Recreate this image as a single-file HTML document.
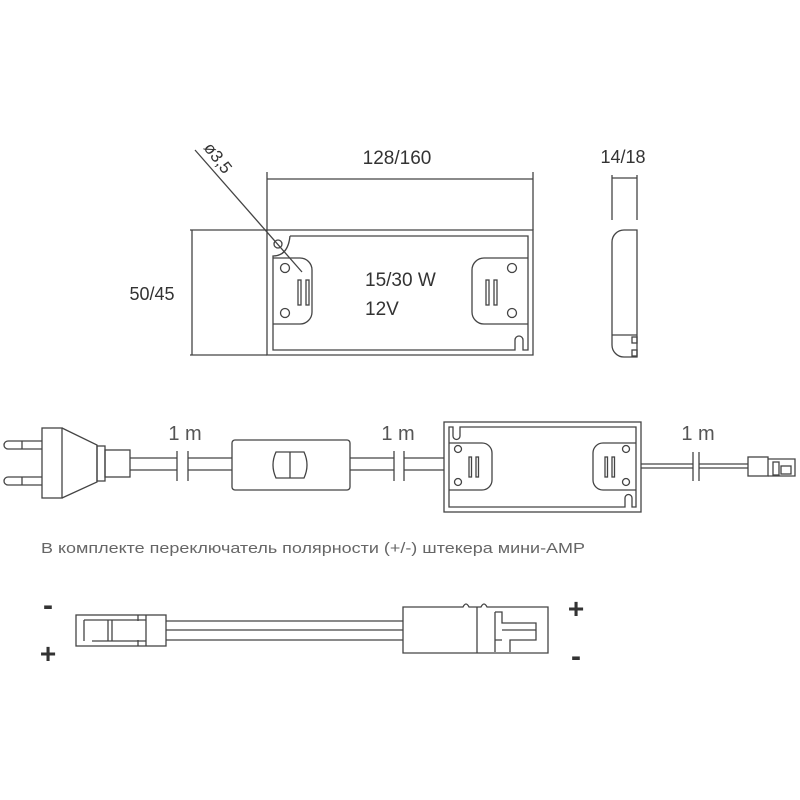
<!DOCTYPE html>
<html><head><meta charset="utf-8"><style>
html,body{margin:0;padding:0;background:#fff}
svg{display:block}
text{font-family:"Liberation Sans",sans-serif}
</style></head><body>
<svg width="800" height="800" viewBox="0 0 800 800" xmlns="http://www.w3.org/2000/svg">
<g fill="none" stroke="#444" stroke-width="1.3">
<line x1="267" y1="179" x2="533" y2="179"/>
<line x1="267" y1="172" x2="267" y2="230"/>
<line x1="533" y1="172" x2="533" y2="230"/>
<line x1="190" y1="230" x2="267" y2="230"/>
<line x1="190" y1="355" x2="267" y2="355"/>
<line x1="192" y1="230" x2="192" y2="355"/>
<line x1="195" y1="150" x2="302" y2="272"/>
<path d="M267 230 H533 V355 H267 Z"/>
<path d="M290 236 H528 V350 H523 V340 a4 4 0 0 0 -8 0 V350 H273 V256 Q288 256 290 236"/>
<circle cx="278" cy="244" r="4"/>
<path d="M273 258 H300 a12 12 0 0 1 12 12 V312 a12 12 0 0 1 -12 12 H273"/>
<path d="M528 258 H484 a12 12 0 0 0 -12 12 V312 a12 12 0 0 0 12 12 H528"/>
<circle cx="285" cy="268" r="4.5"/><circle cx="285" cy="313" r="4.5"/>
<circle cx="512" cy="268" r="4.5"/><circle cx="512" cy="313" r="4.5"/>
<rect x="298" y="280" width="3" height="25"/><rect x="306" y="280" width="3" height="25"/>
<rect x="486" y="280" width="3" height="25"/><rect x="494" y="280" width="3" height="25"/>
<line x1="612" y1="178" x2="637" y2="178"/>
<line x1="612" y1="175" x2="612" y2="220"/>
<line x1="637" y1="175" x2="637" y2="220"/>
<path d="M637 230 H624 a12 12 0 0 0 -12 12 V345 a12 12 0 0 0 12 12 H637 Z"/>
<line x1="612" y1="335" x2="637" y2="335"/>
<rect x="632" y="337" width="5" height="6"/><rect x="632" y="350" width="5" height="6"/>
<path d="M42 441 H8 a4 4 0 0 0 0 8 H42"/><path d="M42 477 H8 a4 4 0 0 0 0 8 H42"/>
<line x1="22" y1="441" x2="22" y2="449"/><line x1="22" y1="477" x2="22" y2="485"/>
<rect x="42" y="428" width="20" height="70"/>
<path d="M62 428 L97 445 V482 L62 498"/>
<rect x="97" y="446" width="8" height="35"/>
<rect x="105" y="450" width="25" height="27"/>
<line x1="130" y1="458" x2="177" y2="458"/><line x1="130" y1="470" x2="177" y2="470"/>
<line x1="188" y1="458" x2="232" y2="458"/><line x1="188" y1="470" x2="232" y2="470"/>
<line x1="177" y1="451" x2="177" y2="481"/><line x1="188" y1="451" x2="188" y2="481"/>
<rect x="232" y="440" width="118" height="50" rx="3"/>
<path d="M276 452 H304 q6 13 0 26 H276 q-6 -13 0 -26 Z"/><line x1="290" y1="452" x2="290" y2="478"/>
<line x1="350" y1="458" x2="394" y2="458"/><line x1="350" y1="470" x2="394" y2="470"/>
<line x1="404" y1="458" x2="444" y2="458"/><line x1="404" y1="470" x2="444" y2="470"/>
<line x1="394" y1="451" x2="394" y2="481"/><line x1="404" y1="451" x2="404" y2="481"/>
<rect x="444" y="422" width="197" height="90"/>
<path d="M460 427 H636 V507 H632 V498 a3.5 3.5 0 0 0 -7 0 V507 H449 V427 H453 V436 a3.5 3.5 0 0 0 7 0 Z"/>
<path d="M449 443 H482 a10 10 0 0 1 10 10 V480 a10 10 0 0 1 -10 10 H449"/>
<path d="M636 443 H603 a10 10 0 0 0 -10 10 V480 a10 10 0 0 0 10 10 H636"/>
<circle cx="458" cy="449" r="3.5"/><circle cx="458" cy="482" r="3.5"/>
<circle cx="626" cy="449" r="3.5"/><circle cx="626" cy="482" r="3.5"/>
<rect x="469" y="457" width="2.5" height="20"/><rect x="476" y="457" width="2.5" height="20"/>
<rect x="605" y="457" width="2.5" height="20"/><rect x="612" y="457" width="2.5" height="20"/>
<line x1="641" y1="464" x2="693" y2="464"/><line x1="641" y1="468" x2="693" y2="468"/>
<line x1="699" y1="464" x2="748" y2="464"/><line x1="699" y1="468" x2="748" y2="468"/>
<line x1="693" y1="452" x2="693" y2="481"/><line x1="699" y1="452" x2="699" y2="481"/>
<rect x="748" y="457" width="20" height="19"/>
<path d="M768 459 H795 V476 H768"/><rect x="773" y="462" width="6" height="13"/><rect x="781" y="466" width="10" height="8"/>
<rect x="76" y="615" width="90" height="31"/>
<path d="M146 615 V646 M84 620 H146 M92 641 H146 M84 620 V641 M108 620 V641 M112 620 V641 M138 615 V621 M138 640 V646"/>
<line x1="166" y1="621" x2="403" y2="621"/><line x1="166" y1="630" x2="403" y2="630"/><line x1="166" y1="640" x2="403" y2="640"/>
<path d="M403 607 H463 q3 -6 6 0 H481 q3 -6 6 0 H548 V653 H403 Z"/>
<line x1="477" y1="607" x2="477" y2="653"/>
<path d="M495 612 H502 V623 H536 V640 H510 V652 M502 640 H495 Z M502 630 H536 M495 612 V652"/>
</g>
<g fill="#333">
<text x="397" y="164" font-size="19" text-anchor="middle">128/160</text>
<text x="623" y="163" font-size="18" text-anchor="middle">14/18</text>
<text x="152" y="300" font-size="18" text-anchor="middle">50/45</text>
<text x="203" y="148" font-size="17" transform="rotate(52 203 148)">ø3,5</text>
<text x="365" y="286" font-size="19">15/30 W</text>
<text x="365" y="315" font-size="19">12V</text>
<text x="185" y="440" font-size="20" text-anchor="middle" fill="#555">1 m</text>
<text x="398" y="440" font-size="20" text-anchor="middle" fill="#555">1 m</text>
<text x="698" y="440" font-size="20" text-anchor="middle" fill="#555">1 m</text>
<text x="41" y="553" font-size="15" fill="#666" textLength="544" lengthAdjust="spacingAndGlyphs">В комплекте переключатель полярности (+/-) штекера мини-АМР</text>
<text x="48" y="615" font-size="30" font-weight="bold" text-anchor="middle">-</text>
<text x="48" y="663" font-size="28" font-weight="bold" text-anchor="middle">+</text>
<text x="576" y="618" font-size="28" font-weight="bold" text-anchor="middle">+</text>
<text x="576" y="666" font-size="30" font-weight="bold" text-anchor="middle">-</text>
</g>
</svg>
</body></html>
